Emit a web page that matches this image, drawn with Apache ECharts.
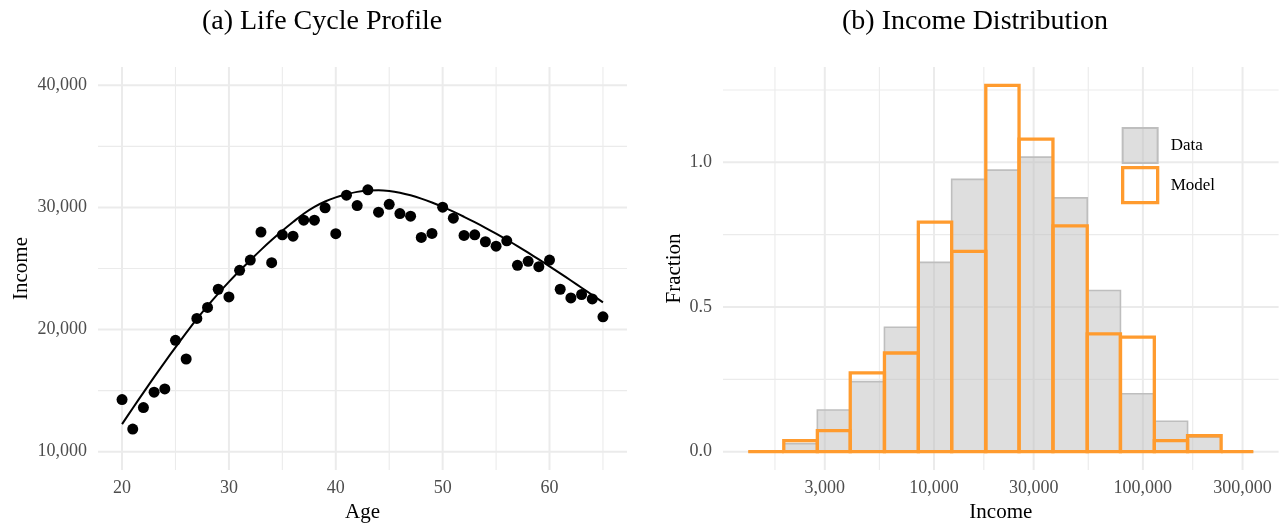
<!DOCTYPE html>
<html>
<head>
<meta charset="utf-8">
<title>Life Cycle Profile and Income Distribution</title>
<script src="https://cdn.jsdelivr.net/npm/echarts@6/dist/echarts.min.js"></script>
<style>
  html, body { margin: 0; padding: 0; background: #ffffff; }
  #chart { width: 1281px; height: 525px; }
</style>
</head>
<body>
<div id="chart"></div>
<script>
// ---- (a) life cycle profile ----
const ages = [20, 21, 22, 23, 24, 25, 26, 27, 28, 29, 30, 31, 32, 33, 34, 35, 36, 37, 38, 39, 40, 41, 42,
  43, 44, 45, 46, 47, 48, 49, 50, 51, 52, 53, 54, 55, 56, 57, 58, 59, 60, 61, 62, 63, 64, 65];
const meanIncome = [14270, 11850, 13615, 14870, 15140, 19115, 17590, 20910, 21810, 23300, 22670, 24850,
  25690, 27980, 25480, 27760, 27650, 28960, 28960, 29970, 27850, 31000, 30150, 31440, 29610, 30260,
  29500, 29280, 27540, 27870, 30020, 29120, 27710, 27760, 27190, 26830, 27270, 25260, 25590, 25150,
  25690, 23300, 22590, 22870, 22510, 21040];
const fittedIncome = [12260, 13560, 14840, 16100, 17335, 18545, 19725, 20875, 21935, 22945, 23905, 24815,
  25675, 26525, 27325, 28085, 28805, 29485, 30045, 30485, 30825, 31075, 31275, 31385, 31405, 31345,
  31205, 30995, 30725, 30405, 30045, 29655, 29235, 28795, 28335, 27855, 27355, 26835, 26295, 25740,
  25175, 24600, 24015, 23425, 22830, 22230];
const ageTicks = [20, 30, 40, 50, 60];
const ageMinor = [25, 35, 45, 55, 65];
const incomeTicks = [10000, 20000, 30000, 40000];
const incomeMinor = [15000, 25000, 35000];

// ---- (b) income distribution (bins in income, equal width on a log scale) ----
const binEdges = [1290, 1909, 2764, 3972, 5791, 8414, 12150, 17700, 25540, 37110, 54160, 78090,
  113460, 163640, 236950, 338000];
const dataFraction = [0, 0.028, 0.144, 0.242, 0.430, 0.654, 0.941, 0.973, 1.018, 0.877, 0.557, 0.200,
  0.105, 0.050, 0];
const modelFraction = [0, 0.038, 0.073, 0.272, 0.341, 0.793, 0.692, 1.266, 1.080, 0.780, 0.407, 0.396,
  0.038, 0.055, 0];
const distTicks = [3000, 10000, 30000, 100000, 300000];
const distMinor = [1732, 5477, 17321, 54772, 173205];
const fractionTicks = [0, 0.5, 1.0];
const fractionMinor = [0.25, 0.75, 1.25];

const FONT = 'Liberation Serif';
const ORANGE = '#ff9b2e';
const GRID_COLOR = '#ebebeb';

// axis ranges (data range plus 5% padding on each side)
const ageRange = [17.75, 67.25];
const incomeRange = [8500, 41500];
const logIncomeRange = [2.9898, 5.6498];
const fractionRange = [-0.0633, 1.3293];

const fmtThousands = v => Math.round(v).toLocaleString('en-US');

// grid line rows: [value, horizontal?, major?]
function gridRows(xMajor, xMinor, yMajor, yMinor) {
  return [
    ...xMinor.map(v => [v, 0, 0]), ...yMinor.map(v => [v, 1, 0]),
    ...xMajor.map(v => [v, 0, 1]), ...yMajor.map(v => [v, 1, 1])
  ];
}
function gridLineRenderer(xRef, yRef) {
  return function (params, api) {
    const v = api.value(0);
    const horizontal = api.value(1) === 1;
    const major = api.value(2) === 1;
    const cs = params.coordSys;
    let shape;
    if (horizontal) {
      const y = api.coord([xRef, v])[1];
      shape = { x1: cs.x, y1: y, x2: cs.x + cs.width, y2: y };
    } else {
      const x = api.coord([v, yRef])[0];
      shape = { x1: x, y1: cs.y, x2: x, y2: cs.y + cs.height };
    }
    return {
      type: 'line', shape, silent: true,
      style: { stroke: GRID_COLOR, lineWidth: major ? 2 : 1.1 }
    };
  };
}

function histRenderer(fill, stroke, lineWidth) {
  return function (params, api) {
    const top = api.coord([api.value(0), api.value(2)]);
    const bottom = api.coord([api.value(1), 0]);
    return {
      type: 'rect',
      shape: { x: top[0], y: top[1], width: bottom[0] - top[0], height: bottom[1] - top[1] },
      style: { fill, stroke, lineWidth }
    };
  };
}

const logEdges = binEdges.map(v => Math.log10(v));
const histRows = fr => fr.map((f, i) => [logEdges[i], logEdges[i + 1], f]);

const axisLabelStyle = { fontFamily: FONT, fontSize: 18, color: '#4d4d4d' };
const axisNameStyle = { fontFamily: FONT, fontSize: 21, color: '#000000' };
const titleStyle = { fontFamily: FONT, fontSize: 28, fontWeight: 'normal', color: '#000' };

const chart = echarts.init(document.getElementById('chart'), null, { renderer: 'canvas' });

chart.setOption({
  animation: false,
  backgroundColor: '#ffffff',
  title: [
    { text: '(a) Life Cycle Profile', left: 317, top: 3, textAlign: 'center', textStyle: titleStyle },
    { text: '(b) Income Distribution', left: 970, top: 3, textAlign: 'center', textStyle: titleStyle }
  ],
  legend: {
    orient: 'vertical', left: 1121, top: 127, padding: 0,
    itemWidth: 35, itemHeight: 35, itemGap: 2,
    selectedMode: false,
    textStyle: { fontFamily: FONT, fontSize: 17, color: '#000', padding: [0, 0, 0, 8] },
    data: [
      { name: 'Data', icon: 'rect',
        itemStyle: { color: 'rgba(190,190,190,0.5)', borderColor: '#bebebe', borderWidth: 2 } },
      { name: 'Model', icon: 'rect',
        itemStyle: { color: 'rgba(255,255,255,0)', borderColor: ORANGE, borderWidth: 3.3 } }
    ]
  },
  grid: [
    { left: 98, top: 67, width: 529, height: 403, outerBoundsMode: 'none', containLabel: false },
    { left: 723, top: 67, width: 555.6, height: 403, outerBoundsMode: 'none', containLabel: false }
  ],
  xAxis: [
    {
      gridIndex: 0, type: 'value', min: ageRange[0], max: ageRange[1],
      name: 'Age', nameLocation: 'middle', nameGap: 29, nameTextStyle: axisNameStyle,
      axisLine: { show: false }, axisTick: { show: false }, splitLine: { show: false },
      axisLabel: { ...axisLabelStyle, margin: 9, customValues: ageTicks, formatter: v => String(v) }
    },
    {
      gridIndex: 1, type: 'value', min: logIncomeRange[0], max: logIncomeRange[1],
      name: 'Income', nameLocation: 'middle', nameGap: 29, nameTextStyle: axisNameStyle,
      axisLine: { show: false }, axisTick: { show: false }, splitLine: { show: false },
      axisLabel: { ...axisLabelStyle, margin: 9, customValues: distTicks.map(v => Math.log10(v)),
        formatter: v => fmtThousands(Math.pow(10, v)) }
    }
  ],
  yAxis: [
    {
      gridIndex: 0, type: 'value', min: incomeRange[0], max: incomeRange[1],
      name: 'Income', nameLocation: 'middle', nameGap: 66, nameTextStyle: axisNameStyle,
      axisLine: { show: false }, axisTick: { show: false }, splitLine: { show: false },
      axisLabel: { ...axisLabelStyle, margin: 11, customValues: incomeTicks, formatter: fmtThousands }
    },
    {
      gridIndex: 1, type: 'value', min: fractionRange[0], max: fractionRange[1],
      name: 'Fraction', nameLocation: 'middle', nameGap: 38, nameTextStyle: axisNameStyle,
      axisLine: { show: false }, axisTick: { show: false }, splitLine: { show: false },
      axisLabel: { ...axisLabelStyle, margin: 11, customValues: fractionTicks, formatter: v => v.toFixed(1) }
    }
  ],
  series: [
    {
      type: 'custom', name: 'grid-a', xAxisIndex: 0, yAxisIndex: 0, silent: true, z: 0,
      renderItem: gridLineRenderer(ageRange[0], incomeRange[0]),
      data: gridRows(ageTicks, ageMinor, incomeTicks, incomeMinor)
    },
    {
      type: 'custom', name: 'grid-b', xAxisIndex: 1, yAxisIndex: 1, silent: true, z: 0,
      renderItem: gridLineRenderer(logIncomeRange[0], fractionRange[0]),
      data: gridRows(distTicks.map(v => Math.log10(v)), distMinor.map(v => Math.log10(v)),
        fractionTicks, fractionMinor)
    },
    {
      type: 'line', name: 'Fitted', xAxisIndex: 0, yAxisIndex: 0, z: 2,
      data: ages.map((a, i) => [a, fittedIncome[i]]),
      smooth: 0.4, showSymbol: false, symbol: 'none',
      lineStyle: { color: '#000', width: 2 }
    },
    {
      type: 'scatter', name: 'Mean income', xAxisIndex: 0, yAxisIndex: 0, z: 3,
      data: ages.map((a, i) => [a, meanIncome[i]]),
      symbolSize: 11, itemStyle: { color: '#000', opacity: 1 }
    },
    {
      type: 'custom', name: 'Data', xAxisIndex: 1, yAxisIndex: 1, z: 2,
      renderItem: histRenderer('rgba(190,190,190,0.5)', '#bebebe', 1.6),
      encode: { x: [0, 1], y: 2 },
      data: histRows(dataFraction)
    },
    {
      type: 'custom', name: 'Model', xAxisIndex: 1, yAxisIndex: 1, z: 3,
      renderItem: histRenderer('rgba(255,255,255,0)', ORANGE, 3.3),
      encode: { x: [0, 1], y: 2 },
      data: histRows(modelFraction)
    }
  ]
});
</script>
</body>
</html>
